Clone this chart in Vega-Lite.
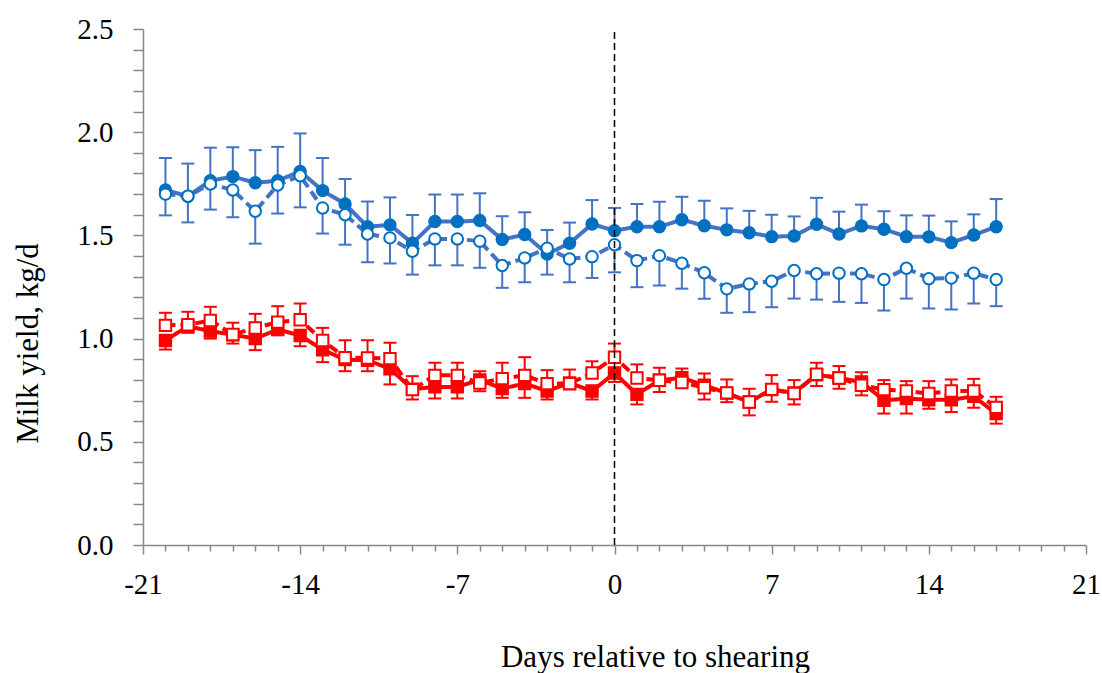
{
  "$schema": "https://vega.github.io/schema/vega-lite/v6.json",
  "autosize": "none",
  "width": 943,
  "height": 516,
  "padding": {"left": 143, "top": 29, "right": 16, "bottom": 128},
  "background": "white",
  "config": {"view": {"stroke": null}, "font": "Liberation Serif"},
  "datasets": {
    "milk": [
      {"d":-20,"s":"A","y":1.72,"c":1.875},{"d":-19,"s":"A","y":1.69,"c":1.848},{"d":-18,"s":"A","y":1.765,"c":1.925},{"d":-17,"s":"A","y":1.785,"c":1.927},{"d":-16,"s":"A","y":1.755,"c":1.913},{"d":-15,"s":"A","y":1.765,"c":1.929},{"d":-14,"s":"A","y":1.81,"c":1.994},{"d":-13,"s":"A","y":1.717,"c":1.875},{"d":-12,"s":"A","y":1.652,"c":1.773},{"d":-11,"s":"A","y":1.542,"c":1.664},{"d":-10,"s":"A","y":1.551,"c":1.684},{"d":-9,"s":"A","y":1.462,"c":1.599},{"d":-8,"s":"A","y":1.567,"c":1.698},{"d":-7,"s":"A","y":1.567,"c":1.698},{"d":-6,"s":"A","y":1.572,"c":1.704},{"d":-5,"s":"A","y":1.48,"c":1.593},{"d":-4,"s":"A","y":1.504,"c":1.612},{"d":-3,"s":"A","y":1.41,"c":1.526},{"d":-2,"s":"A","y":1.462,"c":1.562},{"d":-1,"s":"A","y":1.555,"c":1.671},{"d":0,"s":"A","y":1.523,"c":1.633},{"d":1,"s":"A","y":1.542,"c":1.652},{"d":2,"s":"A","y":1.542,"c":1.663},{"d":3,"s":"A","y":1.576,"c":1.687},{"d":4,"s":"A","y":1.547,"c":1.668},{"d":5,"s":"A","y":1.527,"c":1.631},{"d":6,"s":"A","y":1.513,"c":1.619},{"d":7,"s":"A","y":1.494,"c":1.6},{"d":8,"s":"A","y":1.497,"c":1.592},{"d":9,"s":"A","y":1.554,"c":1.682},{"d":10,"s":"A","y":1.507,"c":1.615},{"d":11,"s":"A","y":1.546,"c":1.649},{"d":12,"s":"A","y":1.53,"c":1.617},{"d":13,"s":"A","y":1.494,"c":1.597},{"d":14,"s":"A","y":1.493,"c":1.596},{"d":15,"s":"A","y":1.465,"c":1.568},{"d":16,"s":"A","y":1.502,"c":1.602},{"d":17,"s":"A","y":1.542,"c":1.676},
      {"d":-20,"s":"B","y":1.7,"c":1.597},{"d":-19,"s":"B","y":1.69,"c":1.563},{"d":-18,"s":"B","y":1.749,"c":1.625},{"d":-17,"s":"B","y":1.72,"c":1.588},{"d":-16,"s":"B","y":1.617,"c":1.46},{"d":-15,"s":"B","y":1.744,"c":1.606},{"d":-14,"s":"B","y":1.789,"c":1.636},{"d":-13,"s":"B","y":1.633,"c":1.509},{"d":-12,"s":"B","y":1.6,"c":1.455},{"d":-11,"s":"B","y":1.507,"c":1.37},{"d":-10,"s":"B","y":1.488,"c":1.364},{"d":-9,"s":"B","y":1.423,"c":1.31},{"d":-8,"s":"B","y":1.483,"c":1.355},{"d":-7,"s":"B","y":1.483,"c":1.355},{"d":-6,"s":"B","y":1.472,"c":1.343},{"d":-5,"s":"B","y":1.354,"c":1.246},{"d":-4,"s":"B","y":1.391,"c":1.273},{"d":-3,"s":"B","y":1.438,"c":1.31},{"d":-2,"s":"B","y":1.386,"c":1.273},{"d":-1,"s":"B","y":1.397,"c":1.294},{"d":0,"s":"B","y":1.455,"c":1.321},{"d":1,"s":"B","y":1.378,"c":1.249},{"d":2,"s":"B","y":1.402,"c":1.257},{"d":3,"s":"B","y":1.365,"c":1.242},{"d":4,"s":"B","y":1.319,"c":1.193},{"d":5,"s":"B","y":1.241,"c":1.125},{"d":6,"s":"B","y":1.265,"c":1.128},{"d":7,"s":"B","y":1.278,"c":1.152},{"d":8,"s":"B","y":1.33,"c":1.194},{"d":9,"s":"B","y":1.314,"c":1.189},{"d":10,"s":"B","y":1.317,"c":1.178},{"d":11,"s":"B","y":1.314,"c":1.173},{"d":12,"s":"B","y":1.286,"c":1.136},{"d":13,"s":"B","y":1.341,"c":1.194},{"d":14,"s":"B","y":1.29,"c":1.146},{"d":15,"s":"B","y":1.293,"c":1.141},{"d":16,"s":"B","y":1.317,"c":1.17},{"d":17,"s":"B","y":1.286,"c":1.157},
      {"d":-20,"s":"C","y":0.991,"c":0.947},{"d":-19,"s":"C","y":1.06,"c":1.028},{"d":-18,"s":"C","y":1.036,"c":1.0},{"d":-17,"s":"C","y":1.019,"c":0.976},{"d":-16,"s":"C","y":1.0,"c":0.944},{"d":-15,"s":"C","y":1.044,"c":1.017},{"d":-14,"s":"C","y":1.015,"c":0.963},{"d":-13,"s":"C","y":0.946,"c":0.886},{"d":-12,"s":"C","y":0.898,"c":0.842},{"d":-11,"s":"C","y":0.895,"c":0.842},{"d":-10,"s":"C","y":0.854,"c":0.778},{"d":-9,"s":"C","y":0.755,"c":0.705},{"d":-8,"s":"C","y":0.766,"c":0.71},{"d":-7,"s":"C","y":0.766,"c":0.71},{"d":-6,"s":"C","y":0.8,"c":0.745},{"d":-5,"s":"C","y":0.758,"c":0.713},{"d":-4,"s":"C","y":0.782,"c":0.713},{"d":-3,"s":"C","y":0.746,"c":0.705},{"d":-2,"s":"C","y":0.785,"c":0.754},{"d":-1,"s":"C","y":0.746,"c":0.705},{"d":0,"s":"C","y":0.833,"c":0.79},{"d":1,"s":"C","y":0.73,"c":0.681},{"d":2,"s":"C","y":0.798,"c":0.741},{"d":3,"s":"C","y":0.81,"c":0.78},{"d":4,"s":"C","y":0.774,"c":0.705},{"d":5,"s":"C","y":0.736,"c":0.692},{"d":6,"s":"C","y":0.693,"c":0.628},{"d":7,"s":"C","y":0.753,"c":0.694},{"d":8,"s":"C","y":0.737,"c":0.681},{"d":9,"s":"C","y":0.825,"c":0.77},{"d":10,"s":"C","y":0.809,"c":0.757},{"d":11,"s":"C","y":0.79,"c":0.725},{"d":12,"s":"C","y":0.701,"c":0.637},{"d":13,"s":"C","y":0.709,"c":0.637},{"d":14,"s":"C","y":0.704,"c":0.66},{"d":15,"s":"C","y":0.704,"c":0.644},{"d":16,"s":"C","y":0.72,"c":0.665},{"d":17,"s":"C","y":0.637,"c":0.588},
      {"d":-20,"s":"D","y":1.064,"c":1.125},{"d":-19,"s":"D","y":1.067,"c":1.13},{"d":-18,"s":"D","y":1.088,"c":1.154},{"d":-17,"s":"D","y":1.02,"c":1.077},{"d":-16,"s":"D","y":1.051,"c":1.12},{"d":-15,"s":"D","y":1.08,"c":1.157},{"d":-14,"s":"D","y":1.091,"c":1.17},{"d":-13,"s":"D","y":0.991,"c":1.052},{"d":-12,"s":"D","y":0.908,"c":0.992},{"d":-11,"s":"D","y":0.906,"c":0.992},{"d":-10,"s":"D","y":0.903,"c":0.98},{"d":-9,"s":"D","y":0.753,"c":0.818},{"d":-8,"s":"D","y":0.822,"c":0.883},{"d":-7,"s":"D","y":0.822,"c":0.883},{"d":-6,"s":"D","y":0.785,"c":0.842},{"d":-5,"s":"D","y":0.806,"c":0.883},{"d":-4,"s":"D","y":0.822,"c":0.91},{"d":-3,"s":"D","y":0.782,"c":0.847},{"d":-2,"s":"D","y":0.782,"c":0.85},{"d":-1,"s":"D","y":0.833,"c":0.89},{"d":0,"s":"D","y":0.91,"c":0.976},{"d":1,"s":"D","y":0.809,"c":0.875},{"d":2,"s":"D","y":0.798,"c":0.859},{"d":3,"s":"D","y":0.787,"c":0.855},{"d":4,"s":"D","y":0.762,"c":0.831},{"d":5,"s":"D","y":0.737,"c":0.802},{"d":6,"s":"D","y":0.693,"c":0.757},{"d":7,"s":"D","y":0.754,"c":0.823},{"d":8,"s":"D","y":0.734,"c":0.799},{"d":9,"s":"D","y":0.827,"c":0.883},{"d":10,"s":"D","y":0.809,"c":0.867},{"d":11,"s":"D","y":0.774,"c":0.837},{"d":12,"s":"D","y":0.753,"c":0.799},{"d":13,"s":"D","y":0.746,"c":0.794},{"d":14,"s":"D","y":0.734,"c":0.794},{"d":15,"s":"D","y":0.746,"c":0.802},{"d":16,"s":"D","y":0.746,"c":0.805},{"d":17,"s":"D","y":0.667,"c":0.718}
    ],
    "zero": [{"d": 0, "lo": 0, "hi": 2.5}]
  },
  "data": {"name": "milk"},
  "encoding": {
    "x": {
      "field": "d", "type": "quantitative",
      "scale": {"domain": [-21, 21], "nice": false, "zero": false},
      "axis": {
        "values": [-21,-20,-19,-18,-17,-16,-15,-14,-13,-12,-11,-10,-9,-8,-7,-6,-5,-4,-3,-2,-1,0,1,2,3,4,5,6,7,8,9,10,11,12,13,14,15,16,17,18,19,20,21],
        "labelExpr": "datum.value % 7 === 0 ? '' + datum.value : ''",
        "tickSize": {"condition": {"test": "datum.value % 7 === 0", "value": 9}, "value": 6},
        "labelBaseline": "alphabetic",
        "labelPadding": 39,
        "labelFlush": false,
        "labelOverlap": false,
        "labelFont": "Liberation Serif",
        "labelFontSize": 29,
        "labelColor": "#000000",
        "grid": false,
        "domainColor": "#888888",
        "domainWidth": 1.5,
        "tickColor": "#888888",
        "tickWidth": 1.5,
        "title": "Days relative to shearing",
        "titleFont": "Liberation Serif",
        "titleFontSize": 31,
        "titleFontWeight": "normal",
        "titleColor": "#000000",
        "titleAlign": "center",
        "titleBaseline": "alphabetic",
        "titleX": 512,
        "titleY": 121
      }
    },
    "y": {
      "field": "y", "type": "quantitative",
      "scale": {"domain": [0, 2.5], "nice": false},
      "axis": {
        "values": [0,0.1,0.2,0.3,0.4,0.5,0.6,0.7,0.8,0.9,1,1.1,1.2,1.3,1.4,1.5,1.6,1.7,1.8,1.9,2,2.1,2.2,2.3,2.4,2.5],
        "labelExpr": "abs(datum.value*2 - round(datum.value*2)) < 0.01 ? format(datum.value, '.1f') : ''",
        "tickSize": 10,
        "labelPadding": 20,
        "labelBaseline": "middle",
        "labelFlush": false,
        "labelOverlap": false,
        "labelFont": "Liberation Serif",
        "labelFontSize": 29,
        "labelColor": "#000000",
        "grid": false,
        "domainColor": "#888888",
        "domainWidth": 1.5,
        "tickColor": "#888888",
        "tickWidth": 1.5,
        "title": "Milk yield, kg/d",
        "titleFont": "Liberation Serif",
        "titleFontSize": 31,
        "titleFontWeight": "normal",
        "titleColor": "#000000",
        "titleAngle": -90,
        "titleAlign": "center",
        "titleBaseline": "alphabetic",
        "titleX": -106,
        "titleY": 314
      }
    }
  },
  "layer": [
    {
      "mark": {"type": "rule", "strokeWidth": 2},
      "encoding": {
        "y2": {"field": "c"},
        "color": {"field": "s", "type": "nominal", "scale": {"domain": ["A","B","C","D"], "range": ["#4472C4","#4472C4","#FF0000","#FF0000"]}, "legend": null}
      }
    },
    {
      "mark": {"type": "tick", "orient": "horizontal", "size": 13, "thickness": 2, "opacity": 1},
      "encoding": {
        "y": {"field": "c", "type": "quantitative"},
        "color": {"field": "s", "type": "nominal", "legend": null}
      }
    },
    {
      "mark": {"type": "line", "strokeWidth": 4},
      "encoding": {
        "color": {"field": "s", "type": "nominal", "legend": null},
        "strokeDash": {"field": "s", "type": "nominal", "scale": {"domain": ["A","B","C","D"], "range": [[1,0],[10,5],[1,0],[10,5]]}, "legend": null}
      }
    },
    {
      "mark": {"type": "point", "size": 130, "strokeWidth": 2, "opacity": 1, "filled": false},
      "encoding": {
        "shape": {"field": "s", "type": "nominal", "scale": {"domain": ["A","B","C","D"], "range": ["circle","circle","square","square"]}, "legend": null},
        "fill": {"field": "s", "type": "nominal", "scale": {"domain": ["A","B","C","D"], "range": ["#0070C0","#FFFFFF","#FF0000","#FFFFFF"]}, "legend": null},
        "stroke": {"field": "s", "type": "nominal", "scale": {"domain": ["A","B","C","D"], "range": ["#0070C0","#0070C0","#FF0000","#FF0000"]}, "legend": null}
      }
    },
    {
      "data": {"name": "zero"},
      "mark": {"type": "rule", "color": "#000000", "strokeWidth": 1.5, "strokeDash": [7, 4]},
      "encoding": {
        "x": {"field": "d", "type": "quantitative"},
        "y": {"field": "lo", "type": "quantitative"},
        "y2": {"field": "hi"}
      }
    }
  ]
}
